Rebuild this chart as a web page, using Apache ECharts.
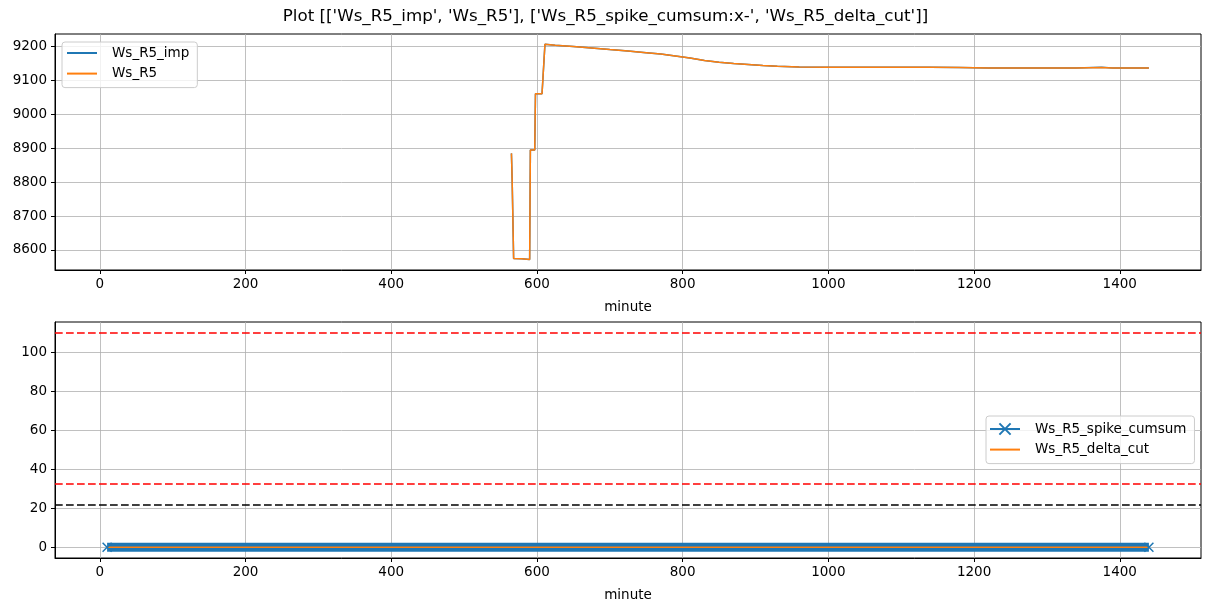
<!DOCTYPE html>
<html>
<head>
<meta charset="utf-8">
<script src="https://cdn.jsdelivr.net/npm/echarts@6/dist/echarts.min.js"></script>
<style>
  html, body { margin: 0; padding: 0; background: #fff; }
  #chart { width: 1211px; height: 611px; }
</style>
</head>
<body>
<div id="chart"></div>
<script>
// tick labels
const minuteTicks = [0, 200, 400, 600, 800, 1000, 1200, 1400]
const topYTicks = [8600, 8700, 8800, 8900, 9000, 9100, 9200]
const bottomYTicks = [0, 20, 40, 60, 80, 100]

// upper panel: Ws_R5_imp / Ws_R5
const r5Minutes = [565, 566, 568, 579, 590, 591, 597, 598, 607, 611, 625, 650, 675, 700, 725, 750, 770, 790,
  810, 830, 850, 870, 890, 910, 930, 960, 1000, 1050, 1100, 1140, 1180, 1220, 1260, 1300, 1340, 1375, 1390, 1440]
const wsR5Imp = [8885, 8806, 8575, 8574, 8572, 8895, 8895, 9061, 9061, 9207, 9204, 9200, 9196, 9191, 9187, 9182, 9178, 9172,
  9166, 9159, 9154, 9150, 9147, 9144, 9142, 9140, 9139, 9139, 9139, 9139, 9138, 9137, 9137, 9137, 9137, 9139, 9137, 9137]
const wsR5 = [8885, 8806, 8575, 8574, 8572, 8895, 8895, 9061, 9061, 9207, 9204, 9200, 9196, 9191, 9187, 9182, 9178, 9172,
  9166, 9159, 9154, 9150, 9147, 9144, 9142, 9140, 9139, 9139, 9139, 9139, 9138, 9137, 9137, 9137, 9137, 9138, 9137, 9137]

// lower panel: spike cumsum / delta cut (flat at 0 over the whole day)
const lowMinutes = [10, 1440]
const spikeCumsum = [0, 0]
const deltaCut = [0, 0]
const redLimits = [110, 32.8]
const blackLimits = [22]

const BLUE = '#1f77b4'
const ORANGE = '#ff7f0e'
const FONT = 'DejaVu Sans'
const X_MARK = 'path://M0,0L10,10M10,0L0,10'

const zip = (xs, ys) => xs.map((x, i) => [x, ys[i]])

function xAxisFor(gridIndex) {
  return {
    gridIndex,
    type: 'value',
    min: -61.5,
    max: 1511.5,
    name: 'minute',
    nameLocation: 'middle',
    nameGap: 30,
    nameTextStyle: { color: '#000', fontSize: 13.5, fontFamily: FONT },
    axisLine: { show: true, onZero: false, lineStyle: { color: '#000', width: 1 } },
    axisTick: { show: true, length: 4, lineStyle: { color: '#000' }, customValues: minuteTicks },
    axisLabel: { color: '#000', fontSize: 13.5, margin: 7, fontFamily: FONT, customValues: minuteTicks, formatter: v => String(v) },
    splitLine: { show: true, lineStyle: { color: '#b0b0b0', width: 0.8 } },
  }
}

function yAxisFor(gridIndex, min, max, ticks) {
  return {
    gridIndex,
    type: 'value',
    min,
    max,
    axisLine: { show: true, onZero: false, lineStyle: { color: '#000', width: 1 } },
    axisTick: { show: true, length: 4, lineStyle: { color: '#000' }, customValues: ticks },
    axisLabel: { color: '#000', fontSize: 13.5, margin: 8, fontFamily: FONT, customValues: ticks, formatter: v => String(v) },
    splitLine: { show: true, lineStyle: { color: '#b0b0b0', width: 0.8 } },
  }
}

const legendBase = {
  orient: 'vertical',
  itemWidth: 30,
  itemHeight: 14,
  itemGap: 6.6,
  borderColor: '#cccccc',
  borderWidth: 1,
  borderRadius: 3,
  backgroundColor: 'rgba(255,255,255,0.8)',
  lineStyle: { width: 2 },
  textStyle: { color: '#000', fontSize: 13.5, fontFamily: FONT, padding: [0, 0, 0, 10] },
}

// legend entry drawn as a bare line (no marker)
const plain = name => ({ name, itemStyle: { color: 'rgba(0,0,0,0)', borderWidth: 0 } })

const chart = echarts.init(document.getElementById('chart'))

chart.setOption({
  animation: false,
  textStyle: { fontFamily: FONT },
  title: {
    text: "Plot [['Ws_R5_imp', 'Ws_R5'], ['Ws_R5_spike_cumsum:x-', 'Ws_R5_delta_cut']]",
    left: 'center',
    top: 8,
    padding: 0,
    textStyle: { color: '#000', fontSize: 16.7, fontWeight: 'normal', fontFamily: FONT },
  },
  grid: [
    { left: 55, top: 34, width: 1146, height: 236, show: true, borderColor: '#000', borderWidth: 1 },
    { left: 55, top: 322, width: 1146, height: 236, show: true, borderColor: '#000', borderWidth: 1 },
  ],
  legend: [
    { ...legendBase, left: 62, top: 42, padding: [4, 8, 7, 4], data: [plain('Ws_R5_imp'), plain('Ws_R5')] },
    { ...legendBase, left: 986, top: 416, padding: [6, 8, 7, 3], data: ['Ws_R5_spike_cumsum', plain('Ws_R5_delta_cut')] },
  ],
  xAxis: [xAxisFor(0), xAxisFor(1)],
  yAxis: [
    yAxisFor(0, 8541, 9237, topYTicks),
    yAxisFor(1, -5.5, 115.5, bottomYTicks),
  ],
  series: [
    {
      name: 'Ws_R5_imp',
      type: 'line',
      xAxisIndex: 0,
      yAxisIndex: 0,
      showSymbol: false,
      symbol: 'none',
      color: BLUE,
      lineStyle: { color: BLUE, width: 1.5 },
      data: zip(r5Minutes, wsR5Imp),
    },
    {
      name: 'Ws_R5',
      type: 'line',
      xAxisIndex: 0,
      yAxisIndex: 0,
      showSymbol: false,
      symbol: 'none',
      color: ORANGE,
      lineStyle: { color: ORANGE, width: 1.5 },
      data: zip(r5Minutes, wsR5),
    },
    // dense x markers merge into one thick band
    {
      name: 'Ws_R5_spike_cumsum',
      type: 'line',
      xAxisIndex: 1,
      yAxisIndex: 1,
      symbol: X_MARK,
      symbolSize: 9,
      showSymbol: true,
      color: BLUE,
      itemStyle: { color: BLUE, borderColor: BLUE, borderWidth: 1.5 },
      lineStyle: { color: BLUE, width: 9 },
      data: zip(lowMinutes, spikeCumsum),
    },
    {
      name: 'Ws_R5_delta_cut',
      type: 'line',
      xAxisIndex: 1,
      yAxisIndex: 1,
      showSymbol: false,
      symbol: 'none',
      color: ORANGE,
      lineStyle: { color: ORANGE, width: 1.5 },
      data: zip(lowMinutes, deltaCut),
      markLine: {
        silent: true,
        symbol: 'none',
        label: { show: false },
        data: [
          ...redLimits.map(v => ({ yAxis: v, lineStyle: { color: '#ff0000', width: 1.5, type: [7.7, 3.3] } })),
          ...blackLimits.map(v => ({ yAxis: v, lineStyle: { color: '#000000', width: 1.5, type: [7.7, 3.3] } })),
        ],
      },
    },
  ],
})
</script>
</body>
</html>
